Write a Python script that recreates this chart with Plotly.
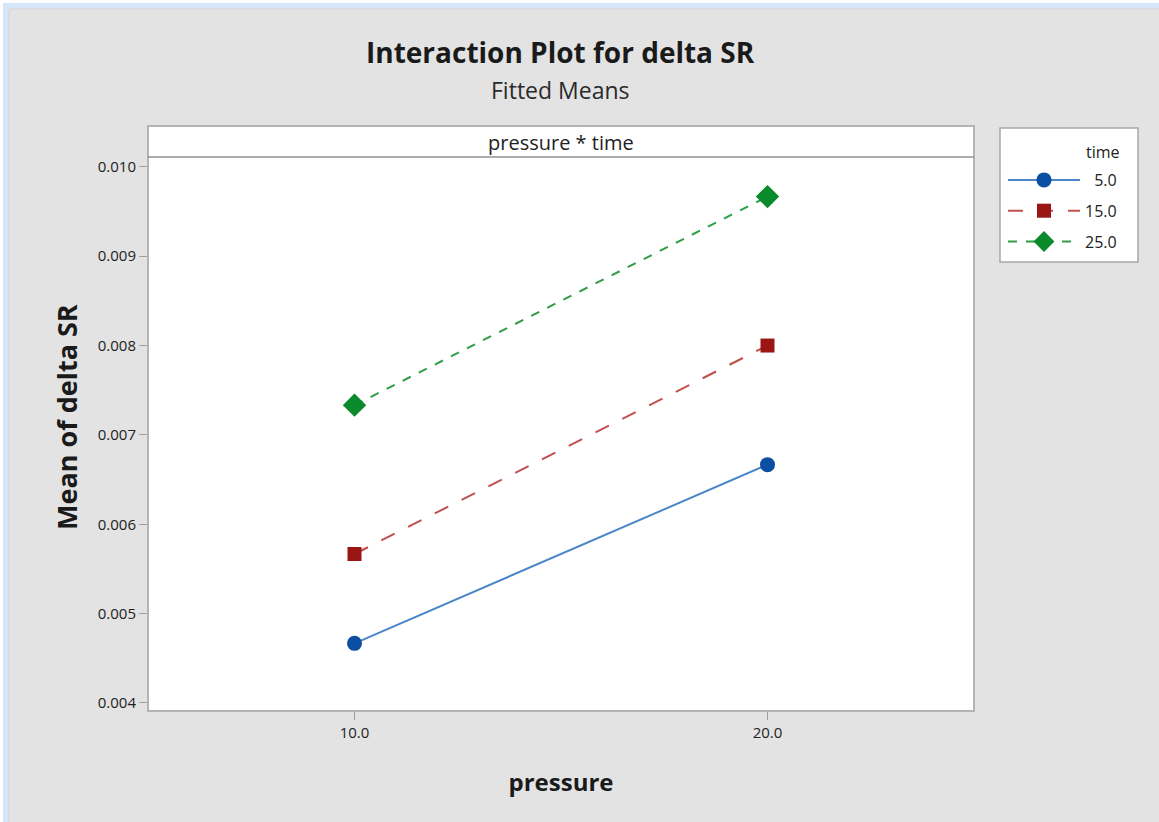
import plotly.graph_objects as go

pressure = [10.0, 20.0]
time_levels = ["\u20075.0", "15.0", "25.0"]
mean_t5 = [0.004667, 0.006667]
mean_t15 = [0.005667, 0.008000]
mean_t25 = [0.007333, 0.009667]

y_ticks = [0.004, 0.005, 0.006, 0.007, 0.008, 0.009, 0.010]
y_ticklabels = ["0.004", "0.005", "0.006", "0.007", "0.008", "0.009", "0.010"]
x_ticks = [10.0, 20.0]
x_ticklabels = ["10.0", "20.0"]

W, H = 1159, 822
L, R, T, B = 148, 974, 157, 711  # plot area in px
pw, ph = R - L, B - T

def px(x):
    return (x - L) / pw

def py(y):
    return (B - y) / ph

FONT = "Open Sans, Noto Sans, DejaVu Sans, sans-serif"

fig = go.Figure()
series = [
    (mean_t5, time_levels[0], "#4a86c8", "solid", "circle", "#0b4ea2", 15),
    (mean_t15, time_levels[1], "#c0504d", "longdash", "square", "#9b1515", 14),
    (mean_t25, time_levels[2], "#2e9e44", "dash", "diamond", "#0a8a2a", 18),
]
for i, (vals, name, lc, dash, sym, mc, ms) in enumerate(series):
    fig.add_trace(go.Scatter(
        x=pressure, y=vals, name=name, mode="lines+markers",
        legendgroup=f"g{i}",
        line=dict(color=lc, width=2, dash=dash),
        marker=dict(symbol=sym, color=mc, size=ms),
    ))

shapes = [
    dict(type="rect", xref="paper", yref="paper", x0=px(3), x1=px(W + 5), y0=py(3), y1=py(H + 5),
         fillcolor="#d4e6f7", line=dict(width=0), layer="below"),
    dict(type="rect", xref="paper", yref="paper", x0=px(9), x1=px(W + 5), y0=py(9), y1=py(H + 5),
         fillcolor="#e3e3e3", line=dict(color="#d6d6d6", width=1), layer="below"),
    dict(type="rect", xref="paper", yref="paper", x0=0, x1=1, y0=0, y1=py(126),
         fillcolor="white", line=dict(color="#b4b4b4", width=2), layer="below"),
    dict(type="line", xref="paper", yref="paper", x0=0, x1=1, y0=1, y1=1,
         line=dict(color="#909090", width=1.5), layer="below"),
    # legend box
    dict(type="rect", xref="paper", yref="paper", x0=px(1000), x1=px(1138), y0=py(262), y1=py(128),
         fillcolor="white", line=dict(color="#a8a8a8", width=1.5), layer="below"),
]

annotations = [
    dict(text="<b>Interaction Plot for delta SR</b>", xref="paper", yref="paper",
         x=px(560), y=py(52), showarrow=False, font=dict(family=FONT, size=28, color="#1a1a1a"),
         xanchor="center", yanchor="middle"),
    dict(text="Fitted Means", xref="paper", yref="paper",
         x=px(560), y=py(90), showarrow=False, font=dict(family=FONT, size=23, color="#2a2a2a"),
         xanchor="center", yanchor="middle"),
    dict(text="pressure * time", xref="paper", yref="paper",
         x=0.5, y=py(142), showarrow=False, font=dict(family=FONT, size=20, color="#222222"),
         xanchor="center", yanchor="middle"),
    dict(text="<b>Mean of delta SR</b>", xref="paper", yref="paper",
         x=px(66), y=py(417), showarrow=False, textangle=-90,
         font=dict(family=FONT, size=27, color="#1a1a1a"),
         xanchor="center", yanchor="middle"),
    dict(text="time", xref="paper", yref="paper",
         x=px(1122), y=py(152), showarrow=False,
         font=dict(family=FONT, size=16, color="#222222"),
         xanchor="right", yanchor="middle"),
]

fig.update_layout(
    width=W, height=H,
    margin=dict(l=L, r=W - R, t=T, b=H - B),
    paper_bgcolor="white",
    plot_bgcolor="rgba(0,0,0,0)",
    font=dict(family=FONT, color="#222222"),
    shapes=shapes,
    annotations=annotations,
    showlegend=True,
    legend=dict(
        x=px(1003), y=py(211), xref="paper", yref="paper", xanchor="left", yanchor="middle",
        bgcolor="rgba(0,0,0,0)", borderwidth=0,
        font=dict(size=16, family=FONT, color="#222222"),
        itemwidth=72, tracegroupgap=7,
    ),
    xaxis=dict(
        range=[5.0, 25.0], tickvals=x_ticks, ticktext=x_ticklabels,
        showgrid=False, zeroline=False, showline=False,
        ticks="outside", ticklen=8, tickcolor="#a0a0a0", tickwidth=1,
        tickfont=dict(size=15, family=FONT, color="#222222"),
        title=dict(text="<b>pressure</b>", font=dict(size=24, family=FONT, color="#1a1a1a"), standoff=33),
    ),
    yaxis=dict(
        range=[0.00391, 0.01011], tickvals=y_ticks, ticktext=y_ticklabels,
        showgrid=False, zeroline=False, showline=False,
        ticks="outside", ticklen=8, tickcolor="#a0a0a0", tickwidth=1,
        tickfont=dict(size=15, family=FONT, color="#222222"),
    ),
)

fig.write_html("out.html")
